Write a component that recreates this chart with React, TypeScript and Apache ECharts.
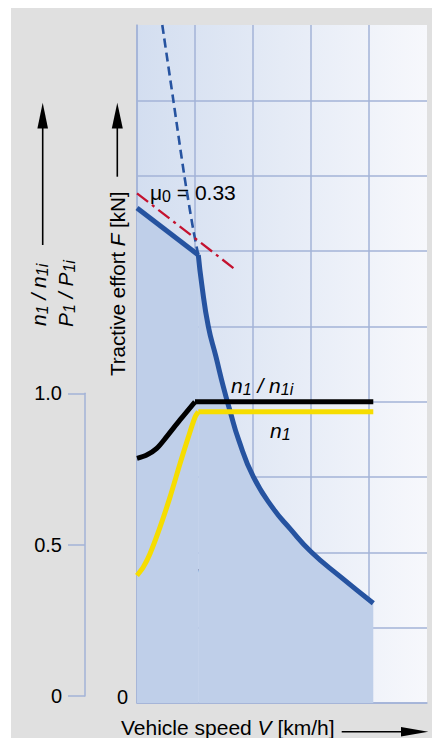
import React, { useEffect, useRef } from "react";
import * as echarts from "echarts";

// Tractive effort F (main scale, grid units 0..9) versus vehicle speed V (grid units 0..5)
// Adhesion-limited straight part
const speedAdh = [0, 1.057];
const effortAdh = [6.571, 5.947];
// Power-limited (hyperbolic) part
const speedPow = [1.057, 1.116, 1.229, 1.36, 1.488, 1.603, 1.75, 2.005, 2.35, 2.638, 3.0, 3.5, 4.074];
const effortPow = [5.947, 5.56, 5.0, 4.6, 4.199, 3.88, 3.5, 3.004, 2.58, 2.315, 2.008, 1.68, 1.324];

// Continuation of the hyperbola above the adhesion limit (dashed)
const speedHyp = [0.436, 0.626, 0.816, 0.971, 1.057];
const effortHyp = [9.0, 8.003, 7.0, 6.279, 5.947];

// Adhesion limit mu0 = 0.33 (dash-dot)
const speedMu = [0, 1.69];
const effortMu = [6.766, 5.757];

// n1 / n1i (relative scale 0..1): curved start, then constant
const speedNCurve = [0, 0.167, 0.34, 0.512, 0.741, 1.0];
const ratioNCurve = [0.785, 0.796, 0.818, 0.857, 0.912, 0.972];
const speedNFlat = [1.0, 4.074];
const ratioNFlat = [0.972, 0.972];

// P1 / P1i (relative scale 0..1): curved start, then constant
const speedPCurve = [0, 0.109, 0.224, 0.397, 0.569, 0.741, 0.884, 1.0, 1.057];
const ratioPCurve = [0.398, 0.426, 0.47, 0.558, 0.657, 0.767, 0.855, 0.921, 0.939];
const speedPFlat = [1.057, 4.074];
const ratioPFlat = [0.939, 0.939];

// Relative axis ticks
const ratioTicks = [0, 0.5, 1];
const ratioTickLabels = ["0", "0.5", "1.0"];

const FONT = '"Liberation Sans", Arial, Helvetica, sans-serif';
const GRID_LINE = "#a3b3d7";
const BLUE = "#2653a0";
const AREA = "#bfcfe9";

const pairs = (xs: number[], ys: number[]) => xs.map((x, i) => [x, ys[i]]);

const tok = (size: number, italic = false, extra: any = {}) => ({
  fontSize: size,
  fontFamily: FONT,
  fontStyle: italic ? "italic" : "normal",
  fill: "#000",
  ...extra,
});

const richSub = {
  i: tok(21, true, { lineHeight: 24 }),
  n: tok(21, false, { lineHeight: 24 }),
  s: tok(16, true, { lineHeight: 16, verticalAlign: "bottom" }),
  sn: tok(16, false, { lineHeight: 16, verticalAlign: "bottom" }),
};

const richAxis = {
  i: tok(20.5, true, { lineHeight: 24 }),
  n: tok(20.5, false, { lineHeight: 24 }),
};

export default function App() {
  const ref = useRef<HTMLDivElement>(null);
  useEffect(() => {
    if (!ref.current) return;
    const chart = echarts.init(ref.current, null, { renderer: "svg" });

    // Secondary axis mapping: 0 -> y=696, 1 -> y=393.3 inside grid top 25 .. bottom 703
    const pxPerUnit = 696 - 393.3;
    const rMin = (696 - 703) / pxPerUnit;
    const rMax = (696 - 25) / pxPerUnit;

    const lineSeries = (name: string, data: number[][], yAxisIndex: number, lineStyle: any, extra: any = {}) => ({
      type: "line",
      name,
      xAxisIndex: 0,
      yAxisIndex,
      data,
      showSymbol: false,
      lineStyle,
      ...extra,
    });

    const option: any = {
      animation: false,
      backgroundColor: "#ffffff",
      grid: [
        {
          left: 137,
          top: 25,
          width: 290,
          height: 678,
          show: true,
          borderWidth: 0,
          backgroundColor: {
            type: "linear",
            x: 0,
            y: 0,
            x2: 1,
            y2: 0,
            colorStops: [
              { offset: 0, color: "#d3def0" },
              { offset: 1, color: "#f7f8fc" },
            ],
          },
        },
        { left: 85, top: 393.3, width: 1, height: pxPerUnit, show: false },
      ],
      xAxis: [
        {
          type: "value",
          gridIndex: 0,
          min: 0,
          max: 5,
          interval: 1,
          axisLine: { show: true, lineStyle: { color: GRID_LINE, width: 1.5 } },
          axisTick: { show: false },
          axisLabel: { show: false },
          splitLine: { show: true, showMaxLine: false, lineStyle: { color: GRID_LINE, width: 1.5 } },
        },
        { type: "value", gridIndex: 1, show: false, min: 0, max: 1 },
      ],
      yAxis: [
        {
          type: "value",
          gridIndex: 0,
          min: 0,
          max: 9,
          interval: 1,
          axisLine: { show: true, lineStyle: { color: GRID_LINE, width: 1.5 } },
          axisTick: { show: false },
          axisLabel: {
            show: true,
            margin: 9,
            fontSize: 20,
            fontFamily: FONT,
            color: "#000",
            verticalAlign: "bottom",
            lineHeight: 12,
            formatter: (v: number) => (v === 0 ? "0" : ""),
          },
          splitLine: { show: true, showMaxLine: false, lineStyle: { color: GRID_LINE, width: 1.5 } },
        },
        {
          type: "value",
          gridIndex: 0,
          min: rMin,
          max: rMax,
          show: false,
          splitLine: { show: false },
        },
        {
          type: "value",
          gridIndex: 1,
          position: "left",
          min: 0,
          max: 1,
          interval: 0.5,
          axisLine: { show: true, lineStyle: { color: GRID_LINE, width: 1.5 } },
          axisTick: { show: true, inside: false, length: 17, lineStyle: { color: GRID_LINE, width: 1.5 } },
          splitLine: { show: false },
          axisLabel: {
            margin: 23,
            fontSize: 20,
            fontFamily: FONT,
            color: "#000",
            formatter: (v: number) => {
              const k = ratioTicks.indexOf(v);
              return k >= 0 ? ratioTickLabels[k] : "";
            },
          },
        },
      ],
      series: [
        lineSeries("F adhesion", pairs(speedAdh, effortAdh), 0, { color: BLUE, width: 5 }, {
          areaStyle: { color: AREA, opacity: 1 },
          z: 3,
        }),
        lineSeries("F power", pairs(speedPow, effortPow), 0, { color: BLUE, width: 5 }, {
          areaStyle: { color: AREA, opacity: 1 },
          smooth: 0.5,
          z: 3,
        }),
        lineSeries("hyp", pairs(speedHyp, effortHyp), 0, { color: BLUE, width: 2.6, type: [9, 5] }, {
          smooth: 0.3,
          z: 4,
        }),
        lineSeries("mu", pairs(speedMu, effortMu), 0, { color: "#c4122f", width: 2.3, type: [14, 5, 3, 5] }, { z: 4 }),
        lineSeries("P1/P1i curve", pairs(speedPCurve, ratioPCurve), 1, { color: "#f6dd00", width: 5 }, {
          smooth: 0.3,
          z: 5,
        }),
        lineSeries("P1/P1i flat", pairs(speedPFlat, ratioPFlat), 1, { color: "#f6dd00", width: 5 }, { z: 5 }),
        lineSeries("n1/n1i curve", pairs(speedNCurve, ratioNCurve), 1, { color: "#000000", width: 5 }, {
          smooth: 0.3,
          z: 6,
        }),
        lineSeries("n1/n1i flat", pairs(speedNFlat, ratioNFlat), 1, { color: "#000000", width: 5 }, { z: 6 }),
      ],
      graphic: [
        {
          type: "rect",
          z: -100,
          silent: true,
          shape: { x: 11, y: 8, width: 421, height: 730 },
          style: { fill: "#e0e0e0" },
        },
        // μ0 = 0.33
        {
          type: "text",
          x: 150,
          y: 192,
          z: 1,
          style: {
            text: "{n|μ}{sn|0}{n| = 0.33}",
            rich: richSub,
            align: "left",
            verticalAlign: "middle",
          },
        },
        // n1 / n1i (on plot)
        {
          type: "text",
          x: 231,
          y: 385,
          z: 1,
          style: { text: "{i|n}{s|1}{i| / n}{s|1i}", rich: richSub, align: "left", verticalAlign: "middle" },
        },
        {
          type: "text",
          x: 270,
          y: 430,
          z: 1,
          style: { text: "{i|n}{s|1}", rich: richSub, align: "left", verticalAlign: "middle" },
        },
        {
          type: "text",
          x: 163,
          y: 576,
          z: 1,
          style: { text: "{i|P}{s|1}{i| / P}{s|1i}", rich: richSub, align: "left", verticalAlign: "middle" },
        },
        // Left rotated labels
        {
          type: "text",
          x: 38,
          y: 326,
          rotation: Math.PI / 2,
          style: { text: "{i|n}{s|1}{i| / n}{s|1i}", rich: richSub, align: "left", verticalAlign: "middle" },
        },
        {
          type: "text",
          x: 65,
          y: 327,
          rotation: Math.PI / 2,
          style: { text: "{i|P}{s|1}{i| / P}{s|1i}", rich: richSub, align: "left", verticalAlign: "middle" },
        },
        { type: "line", shape: { x1: 42.7, y1: 245, x2: 42.7, y2: 125 }, style: { stroke: "#000", lineWidth: 1.6 } },
        {
          type: "polygon",
          shape: { points: [[42.7, 102.7], [37.4, 128.5], [48, 128.5]] },
          style: { fill: "#000" },
        },
        // Tractive effort label
        {
          type: "text",
          x: 117.3,
          y: 376,
          rotation: Math.PI / 2,
          style: {
            text: "{n|Tractive effort }{i|F}{n| [kN]}",
            rich: richAxis,
            align: "left",
            verticalAlign: "middle",
          },
        },
        { type: "line", shape: { x1: 117.3, y1: 176.7, x2: 117.3, y2: 125 }, style: { stroke: "#000", lineWidth: 1.6 } },
        {
          type: "polygon",
          shape: { points: [[117.3, 102.7], [111.8, 128.5], [122.8, 128.5]] },
          style: { fill: "#000" },
        },
        // Vehicle speed label
        {
          type: "text",
          x: 121,
          y: 727,
          style: {
            text: "{n|Vehicle speed }{i|V}{n| [km/h]}",
            rich: richSub,
            align: "left",
            verticalAlign: "middle",
          },
        },
        { type: "line", shape: { x1: 341.7, y1: 731.7, x2: 405, y2: 731.7 }, style: { stroke: "#000", lineWidth: 1.6 } },
        {
          type: "polygon",
          shape: { points: [[428.3, 731.7], [401, 727], [401, 736.4]] },
          style: { fill: "#000" },
        },
      ],
    };
    chart.setOption(option);
    return () => chart.dispose();
  }, []);
  return (
    <div
      ref={ref}
      style={{ position: "fixed", left: 0, top: 0, width: 432, height: 738 }}
    />
  );
}
